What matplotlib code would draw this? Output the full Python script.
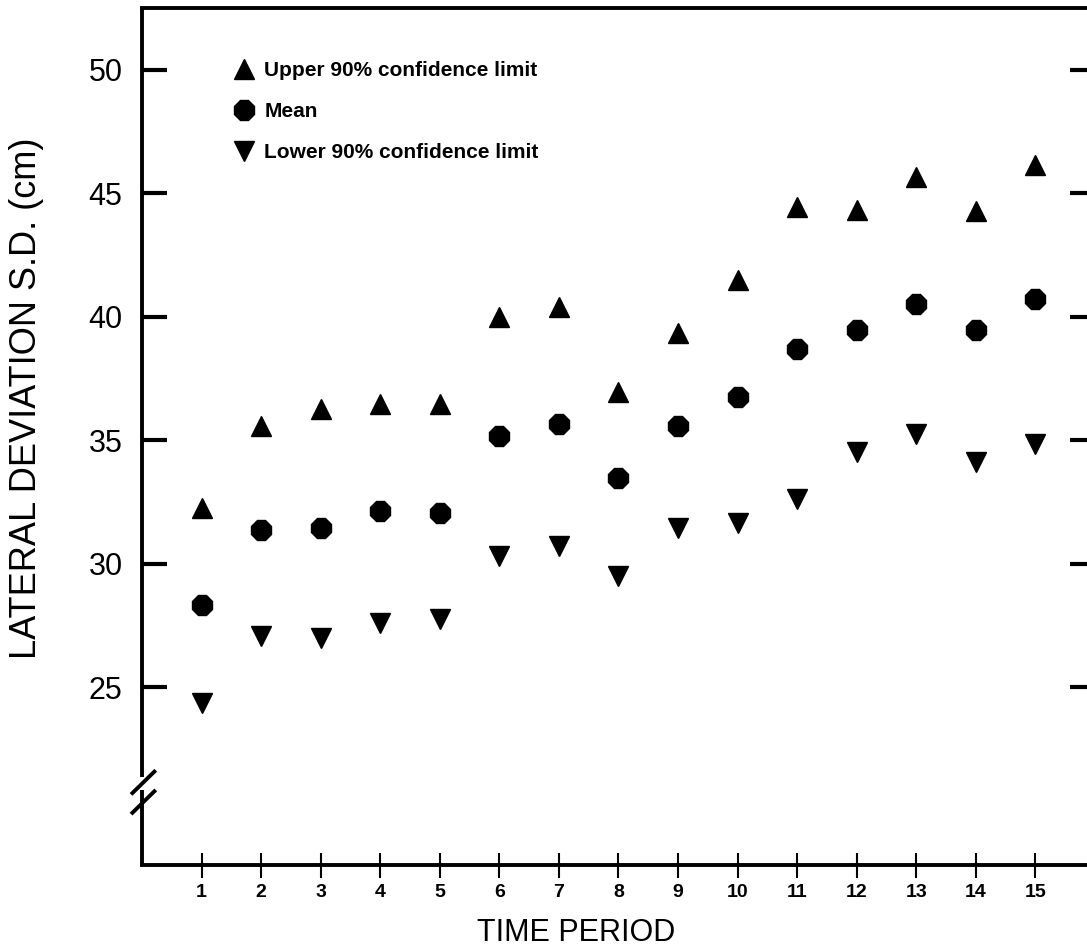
import numpy as np
import matplotlib.pyplot as plt

plt.rcParams['font.family'] = ['Liberation Sans', 'DejaVu Sans']

# time periods and lateral deviation S.D. (cm) for each series
periods = np.arange(1, 16)
upper_90 = [32.25, 35.58, 36.26, 36.47, 36.47, 40.0, 40.4, 36.95, 39.34, 41.49,
            44.45, 44.33, 45.66, 44.29, 46.15]
mean_sd = [28.32, 31.36, 31.44, 32.13, 32.05, 35.17, 35.66, 33.47, 35.58, 36.75,
           38.70, 39.47, 40.52, 39.47, 40.72]
lower_90 = [24.35, 27.07, 26.99, 27.59, 27.75, 30.31, 30.71, 29.50, 31.44, 31.65,
            32.62, 34.52, 35.25, 34.12, 34.85]

yticks = [25, 30, 35, 40, 45, 50]

fig = plt.figure(figsize=(10.87, 9.51), dpi=100)
ax = fig.add_axes([0.1306, 0.0904, 0.8767, 0.9012])

ax.plot(periods, upper_90, '^', color='black', ms=15, ls='none',
        label='Upper 90% confidence limit')
ax.plot(periods, mean_sd, '8', color='black', ms=15, ls='none', label='Mean')
ax.plot(periods, lower_90, 'v', color='black', ms=15, ls='none',
        label='Lower 90% confidence limit')

ax.set_xlim(0, 16)
ax.set_ylim(17.8, 52.5)

ax.set_xticks(periods)
ax.set_xticklabels([str(p) for p in periods], fontsize=14, fontweight='bold')
ax.set_yticks(yticks)
ax.set_yticklabels([str(v) for v in yticks], fontsize=22)

ax.tick_params(axis='y', which='both', direction='in', length=18, width=3,
               right=True, pad=14)
ax.tick_params(axis='x', direction='inout', length=18, width=1.5, pad=5)

for side in ['top', 'bottom', 'right']:
    ax.spines[side].set_linewidth(2.8)
ax.spines['left'].set_visible(False)

# left axis drawn in two pieces with a break near the bottom
ax.plot([0, 0], [0, 0.087], color='black', lw=2.8, transform=ax.transAxes,
        clip_on=False, solid_capstyle='butt')
ax.plot([0, 0], [0.103, 1], color='black', lw=2.8, transform=ax.transAxes,
        clip_on=False, solid_capstyle='butt')
ax.plot([-0.01, 0.013], [0.084, 0.109], color='black', lw=2.8,
        transform=ax.transAxes, clip_on=False)
ax.plot([-0.01, 0.013], [0.061, 0.086], color='black', lw=2.8,
        transform=ax.transAxes, clip_on=False)

ax.set_xlabel('TIME PERIOD', fontsize=22)
ax.xaxis.set_label_coords(0.456, -0.062)
ax.set_ylabel('LATERAL DEVIATION S.D. (cm)', fontsize=26, va='center')
ax.yaxis.set_label_coords(-0.121, 0.545)

leg = ax.legend(loc='upper left', bbox_to_anchor=(0.09, 0.9475), frameon=False,
                prop={'size': 15, 'weight': 'bold'}, handlelength=0.8,
                handletextpad=0.55, labelspacing=1.05, markerscale=1.0,
                borderaxespad=0)

plt.savefig('out.png', dpi=100)
